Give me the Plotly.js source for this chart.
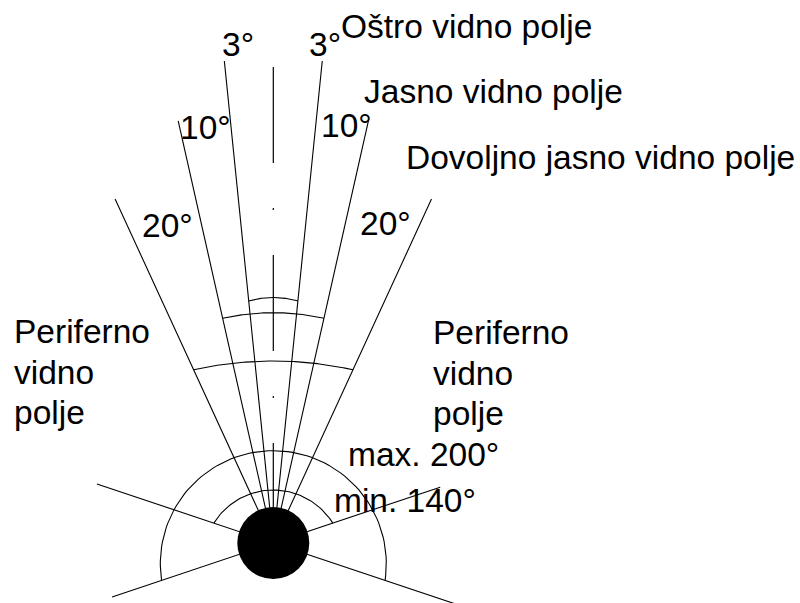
<!DOCTYPE html>
<html>
<head>
<meta charset="utf-8">
<script src="https://cdn.plot.ly/plotly-3.0.1.min.js"></script>
<style>html,body{margin:0;padding:0;background:#fff;}#chart{width:800px;height:603px;}</style>
</head>
<body>
<div id="chart"></div>
<script>
// ---- data ----
const fieldLabels = ['3°', '10°', '20°'];                 // labels of the central fields
const rayHalfAngles = [5.8, 12.7, 24.7];                  // drawn half-angle of each field (deg from axis)
const zoneNames = ['Oštro vidno polje', 'Jasno vidno polje', 'Dovoljno jasno vidno polje'];
const peripheralWords = ['Periferno', 'vidno', 'polje'];
const limitLabels = ['max. 200°', 'min. 140°'];
const limitLineAngles = [-18.5, 18.5];                    // lower (max) and upper (min) side lines, deg from horizontal

// ---- geometry (layout, in pixel space) ----
const E = {x: 273.3, y: 543};          // eye centre
const eyeR = 36;
const rayLen = [484.5, 432.6, 378.6];
const sideLen = {upperL: 186, upperR: 176, lowerL: 170, lowerR: 192};
const fanArcs = [ {peak: 297.5, R: 90}, {peak: 312.7, R: 235}, {peak: 361, R: 365} ];
const minArc = {peak: 490, R: 70};
const maxArc = {peak: 450.7, R: 113};
const FONT = {family: 'Liberation Sans, Arial, sans-serif', size: 33.5, color: '#000'};

const rad = d => d * Math.PI / 180;
function fanDir(theta, side) { return {x: side * Math.sin(rad(theta)), y: -Math.cos(rad(theta))}; }
function sideDir(phi, side) { return {x: side * Math.cos(rad(phi)), y: -Math.sin(rad(phi))}; }
function hit(d, C, R) {
  const f = {x: E.x - C.x, y: E.y - C.y};
  const fd = f.x * d.x + f.y * d.y;
  const t = -fd + Math.sqrt(fd * fd - (f.x * f.x + f.y * f.y) + R * R);
  return {x: E.x + t * d.x, y: E.y + t * d.y};
}
function arcPts(arc, dL, dR) {
  const C = {x: E.x, y: arc.peak + arc.R};
  const pL = hit(dL, C, arc.R), pR = hit(dR, C, arc.R);
  let a1 = Math.atan2(pL.y - C.y, pL.x - C.x);
  let a2 = Math.atan2(pR.y - C.y, pR.x - C.x);
  if (a1 > Math.PI / 2) a1 -= 2 * Math.PI;
  const xs = [], ys = [];
  const n = 80;
  for (let i = 0; i <= n; i++) {
    const a = a1 + (a2 - a1) * i / n;
    xs.push(C.x + arc.R * Math.cos(a));
    ys.push(C.y + arc.R * Math.sin(a));
  }
  return {xs, ys};
}

const lx = [], ly = [];
function seg(xs, ys) { lx.push(...xs, null); ly.push(...ys, null); }

// fan rays
rayHalfAngles.forEach((th, i) => {
  [-1, 1].forEach(s => {
    const d = fanDir(th, s);
    seg([E.x, E.x + rayLen[i] * d.x], [E.y, E.y + rayLen[i] * d.y]);
  });
});
// fan arcs
fanArcs.forEach((arc, i) => {
  const a = arcPts(arc, fanDir(rayHalfAngles[i], -1), fanDir(rayHalfAngles[i], 1));
  seg(a.xs, a.ys);
});
// side lines
const lowerL = sideDir(limitLineAngles[0], -1), lowerR = sideDir(limitLineAngles[0], 1);
const upperL = sideDir(limitLineAngles[1], -1), upperR = sideDir(limitLineAngles[1], 1);
seg([E.x, E.x + sideLen.upperL * upperL.x], [E.y, E.y + sideLen.upperL * upperL.y]);
seg([E.x, E.x + sideLen.upperR * upperR.x], [E.y, E.y + sideLen.upperR * upperR.y]);
seg([E.x, E.x + sideLen.lowerL * lowerL.x], [E.y, E.y + sideLen.lowerL * lowerL.y]);
seg([E.x, E.x + sideLen.lowerR * lowerR.x], [E.y, E.y + sideLen.lowerR * lowerR.y]);
// limit arcs
const am = arcPts(minArc, upperL, upperR); seg(am.xs, am.ys);
const aM = arcPts(maxArc, lowerL, lowerR); seg(aM.xs, aM.ys);

const traces = [
  {x: lx, y: ly, mode: 'lines', line: {color: '#000', width: 1.1}, hoverinfo: 'skip', showlegend: false},
  {x: [E.x, E.x], y: [67, E.y], mode: 'lines', line: {color: '#000', width: 1.2, dash: '96px,45px,2px,45px'}, hoverinfo: 'skip', showlegend: false}
];

function ann(text, x, y, extra) {
  return Object.assign({text, x, y, xref: 'x', yref: 'y', showarrow: false, xanchor: 'left', yanchor: 'middle', align: 'left', font: FONT}, extra || {});
}
const wordY = [331, 372, 412];
const annotations = [
  ann(fieldLabels[0], 220, 44), ann(fieldLabels[0], 306.5, 44),
  ann(fieldLabels[1], 178, 127), ann(fieldLabels[1], 319, 125),
  ann(fieldLabels[2], 140, 225), ann(fieldLabels[2], 357.5, 223.5),
  ann(zoneNames[0], 339, 26), ann(zoneNames[1], 362, 91), ann(zoneNames[2], 404, 157),
  ann(limitLabels[0], 345.5, 454), ann(limitLabels[1], 331.5, 500.5)
];
peripheralWords.forEach((w, i) => {
  annotations.push(ann(w, 12, wordY[i]));
  annotations.push(ann(w, 431, wordY[i] + 1));
});

const layout = {
  width: 800, height: 603,
  margin: {l: 0, r: 0, t: 0, b: 0},
  paper_bgcolor: '#fff', plot_bgcolor: '#fff',
  xaxis: {range: [0, 800], visible: false, fixedrange: true},
  yaxis: {range: [603, 0], visible: false, fixedrange: true},
  shapes: [{type: 'circle', xref: 'x', yref: 'y', x0: E.x - eyeR, x1: E.x + eyeR, y0: E.y - eyeR, y1: E.y + eyeR,
            fillcolor: '#000', line: {color: '#000', width: 0}, layer: 'above'}],
  annotations
};
Plotly.newPlot('chart', traces, layout, {staticPlot: true, displayModeBar: false});
</script>
</body>
</html>
